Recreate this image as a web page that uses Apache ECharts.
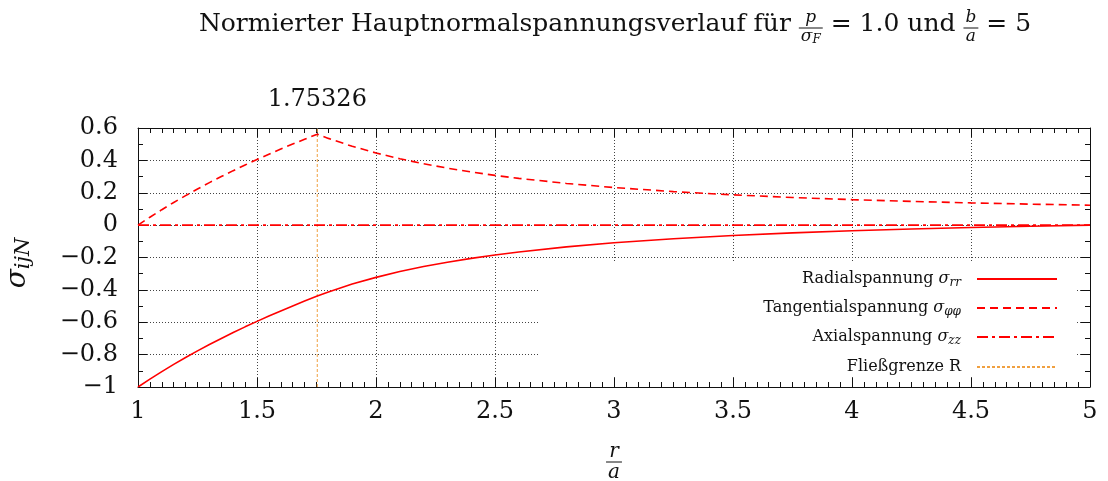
<!DOCTYPE html>
<html>
<head>
<meta charset="utf-8">
<script src="https://cdn.jsdelivr.net/npm/echarts@6/dist/echarts.min.js"></script>
<style>
  html, body { margin: 0; padding: 0; background: #fff; }
  #chart { width: 1108px; height: 481px; }
</style>
</head>
<body>
<div id="chart"></div>
<script>
// Normalised principal stresses of a partly plastic thick-walled tube (b/a = 5)
const radius = [1.0, 1.05, 1.1, 1.15, 1.2, 1.25, 1.3, 1.35, 1.4, 1.45, 1.5, 1.55, 1.6, 1.65, 1.7, 1.75326,
  1.8, 1.9, 2.0, 2.1, 2.2, 2.3, 2.4, 2.5, 2.6, 2.8, 3.0, 3.25, 3.5, 3.75, 4.0, 4.25, 4.5, 4.75, 5.0];
const sigmaRR = [-1.0, -0.9512, -0.9047, -0.8602, -0.8177, -0.7769, -0.7376, -0.6999, -0.6635, -0.6284, -0.5945,
  -0.5617, -0.5300, -0.4992, -0.4694, -0.4385,
  -0.4129, -0.3643, -0.3228, -0.2870, -0.2561, -0.2291, -0.2053, -0.1844, -0.1659, -0.1346, -0.1093,
  -0.0840, -0.0640, -0.0478, -0.0346, -0.0236, -0.0144, -0.0066, 0.0];
const sigmaPhiPhi = [0.0, 0.0488, 0.0953, 0.1398, 0.1823, 0.2231, 0.2624, 0.3001, 0.3365, 0.3716, 0.4055,
  0.4383, 0.4700, 0.5008, 0.5306, 0.5615,
  0.5359, 0.4872, 0.4457, 0.4100, 0.3790, 0.3520, 0.3283, 0.3074, 0.2888, 0.2575, 0.2323,
  0.2070, 0.1870, 0.1708, 0.1575, 0.1466, 0.1374, 0.1296, 0.1230];
const axialRadius = [1.0, 5.0];
const sigmaZZ = [0.0, 0.0];
const yieldRadius = 1.75326;
const yieldSpan = [-1.0, 0.6];

const seriesNames = ['Radialspannung', 'Tangentialspannung', 'Axialspannung', 'Fließgrenze R'];
const legendLabels = [
  '{t|Radialspannung }{m|σ}{s|rr}',
  '{t|Tangentialspannung }{m|σ}{s|φφ}',
  '{t|Axialspannung }{m|σ}{s|zz}',
  '{t|Fließgrenze R}'
];

const X_MIN = 1, X_MAX = 5, Y_MIN = -1, Y_MAX = 0.6;
const SERIF = '"DejaVu Serif"';
const GRID = { left: 138, right: 18, top: 128, bottom: 94 };

const pairs = (xs, ys) => xs.map((x, i) => [x, ys[i]]);

// text measuring for the hand-set formula pieces
const mctx = document.createElement('canvas').getContext('2d');
function fontOf(size, italic) { return (italic ? 'italic ' : '') + size + 'px ' + SERIF; }
function measure(text, size, italic) { mctx.font = fontOf(size, italic); return mctx.measureText(text).width; }
function textEl(text, x, y, size, italic) {
  return {
    type: 'text', x: x, y: y, z: 10,
    style: { text: text, fontSize: size, fontFamily: SERIF, fontStyle: italic ? 'italic' : 'normal',
      fill: '#111', align: 'left', verticalAlign: 'middle' }
  };
}
// run = [[text, size, italic, dy], ...]
function runWidth(run) { return run.reduce((w, p) => w + measure(p[0], p[1], p[2]), 0); }
function runEls(run, x0, y) {
  const out = []; let x = x0;
  run.forEach(p => { out.push(textEl(p[0], x, y + (p[3] || 0), p[1], p[2])); x += measure(p[0], p[1], p[2]); });
  return out;
}
function fraction(num, den, x0, yMid, gapN, gapD) {
  const w = Math.max(runWidth(num), runWidth(den)) + 4;
  const els = [];
  els.push(...runEls(num, x0 + (w - runWidth(num)) / 2, yMid - gapN));
  els.push({ type: 'line', z: 10, shape: { x1: x0, y1: yMid, x2: x0 + w, y2: yMid }, style: { stroke: '#111', lineWidth: 1 } });
  els.push(...runEls(den, x0 + (w - runWidth(den)) / 2, yMid + gapD));
  return { els: els, w: w };
}

// title: text with two stacked fractions
function buildTitle() {
  const size = 25, fs = 17, yMain = 24, yBar = 28;
  const els = []; let x = 0;
  const put = (str) => { els.push(textEl(str, x, yMain, size, false)); x += measure(str, size, false); };
  put('Normierter Hauptnormalspannungsverlauf für ');
  let f = fraction([['p', fs, true]], [['σ', fs, true], ['F', 12, true, 3]], x, yBar, 10, 9);
  els.push(...f.els); x += f.w;
  put(' = 1.0 und ');
  f = fraction([['b', fs, true]], [['a', fs, true]], x, yBar, 10, 9);
  els.push(...f.els); x += f.w;
  put(' = 5');
  return { type: 'group', x: 615 - x / 2, y: 0, children: els };
}

// x-axis name: r over a
function buildXName() {
  const cx = GRID.left + (1108 - GRID.left - GRID.right) / 2;
  const f = fraction([['r', 20, true]], [['a', 20, true]], 0, 462, 10, 11);
  return { type: 'group', x: cx - f.w / 2, y: 0, children: f.els };
}

// y-axis name: sigma_ijN, reading bottom to top
function buildYName() {
  const run = [['σ', 28, true, 0], ['ijN', 21, true, 6]];
  const w = runWidth(run);
  return { type: 'group', x: 18, y: 263, rotation: Math.PI / 2, children: runEls(run, -w / 2, 0) };
}

const fmtNum = v => String(Math.round(v * 100) / 100).replace('-', '\u2212');

const axisLine = () => ({ show: true, onZero: false, lineStyle: { color: '#111', width: 1 } });
const majorTick = () => ({ show: true, inside: true, length: 9, lineStyle: { color: '#111', width: 1 } });
const minorTick = n => ({ show: true, splitNumber: n, length: 5, lineStyle: { color: '#111', width: 1 } });
const gridDots = () => ({ show: true, lineStyle: { color: '#444', width: 1, type: [1, 2] } });
const tickLabel = margin => ({ show: true, margin: margin, fontFamily: SERIF, fontSize: 24, color: '#111', formatter: fmtNum });

const chart = echarts.init(document.getElementById('chart'));

chart.setOption({
  animation: false,
  backgroundColor: '#fff',
  grid: { left: GRID.left, right: GRID.right, top: GRID.top, bottom: GRID.bottom, outerBoundsMode: 'none' },
  xAxis: [
    {
      type: 'value', min: X_MIN, max: X_MAX, interval: 0.5, position: 'bottom',
      axisLine: axisLine(), axisTick: majorTick(), minorTick: minorTick(10),
      splitLine: gridDots(), axisLabel: tickLabel(13)
    },
    {
      type: 'value', min: X_MIN, max: X_MAX, interval: 0.5, position: 'top',
      axisLine: axisLine(), axisTick: majorTick(), minorTick: minorTick(10),
      splitLine: { show: false }, axisLabel: { show: false }
    },
    {
      type: 'value', min: X_MIN, max: X_MAX, position: 'top',
      axisLine: { show: false, onZero: false },
      axisTick: { show: true, inside: true, length: 9, customValues: [yieldRadius] },
      splitLine: { show: false },
      axisLabel: { show: true, margin: 16, customValues: [yieldRadius], fontFamily: SERIF, fontSize: 24, color: '#111',
        formatter: () => String(yieldRadius) }
    }
  ],
  yAxis: [
    {
      type: 'value', min: Y_MIN, max: Y_MAX, interval: 0.2, position: 'left',
      axisLine: axisLine(), axisTick: majorTick(), minorTick: minorTick(2),
      splitLine: gridDots(), axisLabel: tickLabel(20)
    },
    {
      type: 'value', min: Y_MIN, max: Y_MAX, interval: 0.2, position: 'right',
      axisLine: axisLine(), axisTick: majorTick(), minorTick: minorTick(2),
      splitLine: { show: false }, axisLabel: { show: false }
    }
  ],
  legend: seriesNames.map((name, i) => ({
    data: [name],
    orient: 'vertical',
    right: 50,
    top: [278, 307, 336, 366][i] - 7,
    align: 'right',
    padding: 0,
    itemWidth: 80,
    itemHeight: 14,
    selectedMode: false,
    z: 6,
    itemStyle: { color: 'rgba(0,0,0,0)', borderWidth: 0 },
    formatter: () => legendLabels[i],
    textStyle: {
      color: '#111', padding: [0, 11, 0, 0],
      rich: {
        t: { fontFamily: SERIF, fontSize: 16, color: '#111' },
        m: { fontFamily: SERIF, fontStyle: 'italic', fontSize: 16, color: '#111' },
        s: { fontFamily: SERIF, fontStyle: 'italic', fontSize: 12, color: '#111', verticalAlign: 'bottom', lineHeight: 20 }
      }
    }
  })),
  graphic: [
    buildTitle(),
    buildXName(),
    buildYName(),
    // opaque key background
    { type: 'rect', z: 1, shape: { x: 539, y: 263, width: 1075 - 539, height: 377 - 263 }, style: { fill: '#fff' } }
  ],
  series: [
    {
      name: seriesNames[0], type: 'line', data: pairs(radius, sigmaRR), showSymbol: false, symbol: 'none', z: 4,
      lineStyle: { color: '#ff0000', width: 1.6, type: 'solid' }
    },
    {
      name: seriesNames[1], type: 'line', data: pairs(radius, sigmaPhiPhi), showSymbol: false, symbol: 'none', z: 4,
      lineStyle: { color: '#ff0000', width: 1.6, type: [8, 5] }
    },
    {
      name: seriesNames[2], type: 'line', data: pairs(axialRadius, sigmaZZ), showSymbol: false, symbol: 'none', z: 4,
      lineStyle: { color: '#ff0000', width: 1.6, type: [11, 4, 3, 4] }
    },
    {
      name: seriesNames[3], type: 'line', data: pairs([yieldRadius, yieldRadius], yieldSpan), showSymbol: false, symbol: 'none', z: 3,
      lineStyle: { color: '#f0a040', width: 1, type: [3, 2] }
    }
  ]
});
</script>
</body>
</html>
